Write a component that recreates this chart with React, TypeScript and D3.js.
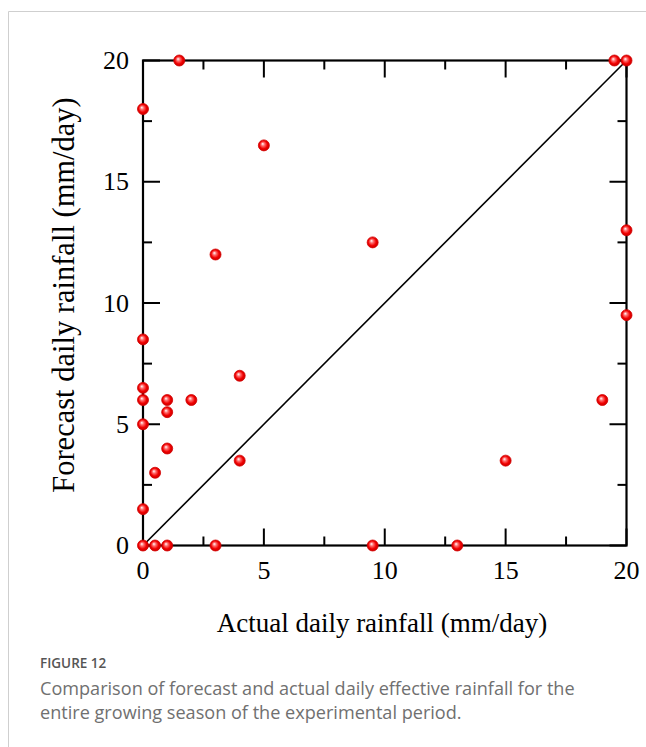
import React from "react";
import * as d3 from "d3";

const actual = [0, 1.5, 5, 3, 9.5, 0, 0, 0, 1, 2, 1, 0, 4, 1, 0.5, 4, 0, 0, 0.5, 1, 3, 9.5, 13, 15, 19, 20, 20, 19.5, 20];
const forecast = [18, 20, 16.5, 12, 12.5, 8.5, 6.5, 6, 6, 6, 5.5, 5, 7, 4, 3, 3.5, 1.5, 0, 0, 0, 0, 0, 0, 3.5, 6, 9.5, 13, 20, 20];
const majorTicks = [0, 5, 10, 15, 20];
const minorTicks = [2.5, 7.5, 12.5, 17.5];
const xLabel = "Actual daily rainfall (mm/day)";
const yLabel = "Forecast daily rainfall (mm/day)";
const figLabel = "FIGURE 12";
const captionLines = [
  "Comparison of forecast and actual daily effective rainfall for the",
  "entire growing season of the experimental period.",
];

export default function App() {
  const W = 646, H = 747;
  const L = 143, R = 626.5, T = 60.5, B = 545.5;
  const x = d3.scaleLinear().domain([0, 20]).range([L, R]);
  const y = d3.scaleLinear().domain([0, 20]).range([B, T]);
  const serif = "'Liberation Serif', 'Times New Roman', serif";
  const sans = "'Open Sans', 'Noto Sans', sans-serif";
  const majLen = 17, minLen = 9;
  const line = d3.line<number>().x((d) => x(d)).y((d) => y(d));
  return (
    <svg width={W} height={H} style={{ position: "absolute", left: 0, top: 0 }} xmlns="http://www.w3.org/2000/svg">
      <defs>
        <radialGradient id="ball" cx="0.5" cy="0.5" r="0.55" fx="0.38" fy="0.35">
          <stop offset="0%" stopColor="#ffffff" />
          <stop offset="30%" stopColor="#ff6b6b" />
          <stop offset="65%" stopColor="#f00000" />
          <stop offset="100%" stopColor="#c00000" />
        </radialGradient>
      </defs>
      <rect x={0} y={0} width={W} height={H} fill="#fff" />
      <path d={`M8.5,${H} V11.5 H${W}`} fill="none" stroke="#cfcfcf" strokeWidth={1} />
      {/* diagonal */}
      <path d={line([0, 20]) || ""} stroke="#000" strokeWidth={1.6} fill="none" />
      {/* ticks */}
      {majorTicks.map((t) => (
        <g key={"M" + t} stroke="#000" strokeWidth={2}>
          <line x1={x(t)} x2={x(t)} y1={B} y2={B - majLen} />
          <line x1={x(t)} x2={x(t)} y1={T} y2={T + majLen} />
          <line x1={L} x2={L + majLen} y1={y(t)} y2={y(t)} />
          <line x1={R} x2={R - majLen} y1={y(t)} y2={y(t)} />
        </g>
      ))}
      {minorTicks.map((t) => (
        <g key={"m" + t} stroke="#000" strokeWidth={2}>
          <line x1={x(t)} x2={x(t)} y1={B} y2={B - minLen} />
          <line x1={x(t)} x2={x(t)} y1={T} y2={T + minLen} />
          <line x1={L} x2={L + minLen} y1={y(t)} y2={y(t)} />
          <line x1={R} x2={R - minLen} y1={y(t)} y2={y(t)} />
        </g>
      ))}
      <rect x={L} y={T} width={R - L} height={B - T} fill="none" stroke="#000" strokeWidth={2.2} />
      {/* tick labels */}
      {majorTicks.map((t) => (
        <text key={"xl" + t} x={x(t)} y={579} textAnchor="middle" fontFamily={serif} fontSize={26} fill="#000">
          {t}
        </text>
      ))}
      {majorTicks.map((t) => (
        <text key={"yl" + t} x={129} y={y(t) + 8.5} textAnchor="end" fontFamily={serif} fontSize={26} fill="#000">
          {t}
        </text>
      ))}
      {/* points */}
      {actual.map((a, i) => (
        <circle key={i} cx={x(a)} cy={y(forecast[i])} r={5.5} fill="url(#ball)" stroke="#d40000" strokeWidth={0.8} />
      ))}
      {/* axis labels */}
      <text x={382} y={632} textAnchor="middle" fontFamily={serif} fontSize={27} fill="#000">
        {xLabel}
      </text>
      <text transform={`translate(74,${295}) rotate(-90)`} textAnchor="middle" fontFamily={serif} fontSize={30.5} fill="#000">
        {yLabel}
      </text>
      {/* caption */}
      <text x={40} y={668} fontFamily={sans} fontSize={13.5} fontWeight={600} fill="#555">
        {figLabel}
      </text>
      {captionLines.map((c, i) => (
        <text key={i} x={40} y={695 + i * 24} fontFamily={sans} fontSize={18.1} fill="#707070">
          {c}
        </text>
      ))}
    </svg>
  );
}
